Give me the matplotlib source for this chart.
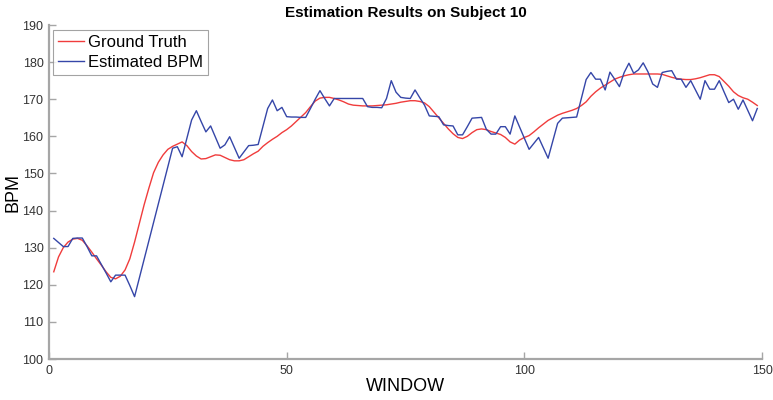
import numpy as np
import matplotlib
matplotlib.use('Agg')
import matplotlib.pyplot as plt

# Heart-rate estimates per analysis window, subject 10
ground_truth = [
    123.5, 127.5, 130.0, 131.5, 132.3, 132.5, 132.0, 130.5, 128.8, 127.0,
    125.3, 123.5, 122.0, 121.6, 122.3, 124.0, 127.0, 131.5, 136.5, 141.5,
    146.0, 150.2, 153.0, 155.0, 156.5, 157.3, 157.9, 158.5, 157.5, 155.9,
    154.7, 153.9, 154.0, 154.5, 155.0, 154.9, 154.3, 153.7, 153.4, 153.4,
    153.7, 154.5, 155.3, 156.0, 157.3, 158.3, 159.2, 160.0, 161.0, 161.8,
    162.8, 164.0, 165.2, 166.4, 168.0, 169.5, 170.3, 170.5, 170.5, 170.2,
    169.8, 169.3, 168.7, 168.4, 168.3, 168.2, 168.2, 168.2, 168.3, 168.4,
    168.5, 168.7, 168.9, 169.2, 169.4, 169.6, 169.6, 169.4, 169.0, 168.0,
    166.5, 165.0, 163.5, 162.0, 160.7, 159.7, 159.4, 160.0, 161.0, 161.8,
    162.0, 161.8, 161.3, 160.9, 160.5, 159.7, 158.5, 157.9, 159.0, 159.7,
    160.2, 161.2, 162.3, 163.3, 164.3, 165.0, 165.7, 166.2, 166.6, 167.0,
    167.5, 168.3, 169.3, 170.8, 172.0, 173.0, 173.8, 174.6, 175.4, 175.9,
    176.3, 176.6, 176.8, 176.8, 176.8, 176.8, 176.8, 176.8, 176.7, 176.3,
    175.9, 175.6, 175.4, 175.3, 175.3, 175.5, 175.8, 176.2, 176.6, 176.6,
    176.1, 174.8, 173.5, 172.0, 171.0, 170.4, 170.0, 169.2, 168.3,
]

estimated_bpm = [
    132.5, 131.4, 130.3, 130.3, 132.5, 132.6, 132.6, 130.3, 127.8, 127.8,
    125.5, 123.2, 120.8, 122.6, 122.6, 122.6, 119.8, 116.8, 121.8, 126.8,
    131.8, 136.8, 141.8, 146.8, 151.8, 156.8, 157.2, 154.5, 159.5, 164.4,
    166.9, 164.0, 161.2, 162.8, 159.8, 156.8, 157.7, 159.9, 157.0, 154.1,
    155.8, 157.5, 157.6, 157.8, 162.6, 167.5, 169.8, 166.9, 167.8, 165.3,
    165.2, 165.2, 165.1, 165.1, 167.5, 170.0, 172.3, 170.2, 168.2, 170.2,
    170.2, 170.2, 170.2, 170.2, 170.2, 170.2, 168.0, 167.8, 167.8, 167.7,
    170.2, 175.0, 171.9, 170.5, 170.3, 170.2, 172.5, 170.4, 168.4, 165.5,
    165.4, 165.3, 163.1, 162.9, 162.8, 160.4, 160.4, 162.6, 164.9, 165.0,
    165.1, 161.9, 160.6, 160.6, 162.6, 162.6, 160.6, 165.5, 162.5, 159.5,
    156.5, 158.1, 159.7, 156.9, 154.1, 158.8, 163.5, 164.9, 165.0, 165.1,
    165.2, 170.2, 175.3, 177.2, 175.4, 175.4, 172.5, 177.3, 175.4, 173.4,
    177.2, 179.7, 177.0, 177.9, 179.8, 177.4, 174.1, 173.2, 177.2, 177.5,
    177.7, 175.4, 175.4, 173.2, 175.0, 172.5, 170.0, 175.0, 172.7, 172.7,
    175.0, 172.0, 169.1, 170.0, 167.3, 169.8, 167.0, 164.2, 167.5,
]

windows = np.arange(1, len(ground_truth) + 1)

x_ticks = [0, 50, 100, 150]
y_ticks = [100, 110, 120, 130, 140, 150, 160, 170, 180, 190]

plt.rcParams['font.family'] = ['Liberation Sans', 'DejaVu Sans']

fig = plt.figure(figsize=(7.73, 4.0), dpi=100)
ax = fig.add_axes([0.0634, 0.1025, 0.9224, 0.835])

ax.plot(windows, ground_truth, color='#f03c3c', lw=1.0, label='Ground Truth')
ax.plot(windows, estimated_bpm, color='#3546a8', lw=1.0, label='Estimated BPM')

ax.set_xlim(0, 150)
ax.set_ylim(100, 190)
ax.set_xticks(x_ticks)
ax.set_yticks(y_ticks)

for side in ('top', 'right'):
    ax.spines[side].set_visible(False)
for side in ('left', 'bottom'):
    ax.spines[side].set_color('#a6a6a6')
    ax.spines[side].set_linewidth(1.6)
ax.tick_params(direction='in', length=5, width=1.0, color='#a6a6a6',
               labelsize=9, labelcolor='#333333', pad=4)

ax.set_title('Estimation Results on Subject 10', fontsize=11, fontweight='bold', pad=6)
ax.set_xlabel('WINDOW', fontsize=13, labelpad=1)
ax.set_ylabel('BPM', fontsize=13, labelpad=1)

leg = ax.legend(loc='upper left', bbox_to_anchor=(0.005, 0.985), fontsize=12,
                frameon=True, fancybox=False, borderpad=0.3, handlelength=1.6,
                handletextpad=0.2, labelspacing=0.3, borderaxespad=0)
leg.get_frame().set_edgecolor('#8c8c8c')
leg.get_frame().set_linewidth(0.8)

fig.savefig('out.png', dpi=100)
